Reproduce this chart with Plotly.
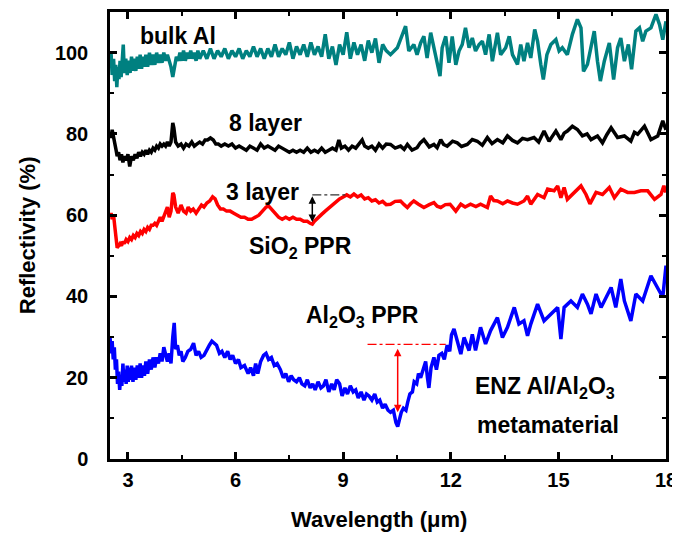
import plotly.graph_objects as go

# ---------------- data ----------------
bulk_x = [2.50,2.53,2.56,2.60,2.63,2.66,2.69,2.72,2.75,2.78,2.81,2.84,2.87,2.90,2.94,2.98,3.02,3.06,3.10,3.14,
          3.18,3.22,3.26,3.30,3.34,3.38,3.42,3.46,3.50,3.55,3.60,3.65,3.70,3.75,3.80,3.85,3.90,3.95,4.00,4.05,
          4.10,4.15,4.20,4.25,4.30,4.35,4.40,4.45,4.50,4.55,4.60,4.65,4.70,4.75,4.80,4.85,4.90,4.95,5.00,5.10,
          5.20,5.30,5.40,5.50,5.60,5.70,5.80,5.90,6.00,6.10,6.20,6.30,6.40,6.50,6.60,6.70,6.80,6.90,7.00,7.10,
          7.20,7.30,7.40,7.50,7.60,7.70,7.80,7.90,8.00,8.10,8.20,8.30,8.40,8.50,8.60,8.70,8.80,8.90,9.00,9.10,
          9.20,9.30,9.40,9.50,9.60,9.70,9.80,9.90,10.00,10.10,10.20,
          10.32,10.51,10.74,10.83,10.97,11.06,11.16,11.25,11.34,11.44,11.53,11.62,11.70,11.76,11.86,11.95,12.04,
          12.14,12.23,12.32,12.41,12.51,12.60,12.69,12.79,12.88,12.97,13.07,13.16,13.30,13.39,13.53,13.63,13.72,
          13.86,13.95,14.04,14.14,14.23,14.34,14.42,14.51,14.58,14.68,14.79,14.93,15.02,15.11,15.25,15.39,15.53,
          15.63,15.70,15.81,15.91,16.00,16.09,16.17,16.28,16.42,16.54,16.65,16.74,16.84,16.95,17.04,17.16,17.26,
          17.35,17.44,17.58,17.72,17.82,17.91,18.00]
bulk_y = [97.5,99.8,94.5,98.5,93.0,97.0,91.5,96.5,93.5,98.0,94.0,97.5,102.0,95.0,98.5,94.5,98.0,95.0,99.0,95.5,
          98.5,95.5,99.0,96.0,99.5,96.0,99.0,96.5,99.5,96.5,100.0,97.0,99.5,97.0,100.0,97.5,99.5,97.5,100.0,98.0,
          99.5,98.0,96.5,94.0,96.5,99.0,98.0,100.0,98.0,100.5,98.0,100.0,98.5,100.5,98.5,100.0,98.0,100.5,98.5,100.5,
          98.5,101.0,98.5,100.5,99.0,101.0,98.5,100.5,99.0,101.0,98.5,100.5,99.0,101.5,99.0,101.0,98.5,101.0,99.0,102.0,
          99.0,101.0,99.5,102.5,98.5,101.5,99.5,102.0,99.0,102.5,99.5,101.5,99.0,104.5,98.5,101.5,97.0,102.0,99.5,105.0,
          98.5,102.5,99.5,102.0,98.0,103.0,100.0,103.5,97.5,102.0,100.5,
          99.5,101.2,106.5,100.4,102.0,99.5,102.4,104.0,98.7,104.9,101.2,97.1,94.2,101.2,104.0,97.5,104.0,
          97.0,100.4,102.0,106.1,101.2,103.6,100.4,102.0,102.8,99.5,104.5,97.9,104.9,99.5,101.2,104.0,99.5,
          97.1,102.0,97.9,102.4,98.7,105.7,102.8,97.1,93.4,99.5,102.0,103.2,100.4,101.2,99.5,104.5,108.2,
          106.1,95.4,97.1,101.2,105.3,97.9,93.0,97.9,102.4,93.4,101.2,103.6,97.9,102.0,95.9,105.3,106.1,
          102.8,105.3,106.1,109.4,106.9,103.2,107.7]

l8_x = [2.50,2.53,2.56,2.60,2.63,2.67,2.70,2.74,2.78,2.82,2.86,2.90,2.95,3.00,3.05,3.10,3.15,3.20,3.25,3.30,
        3.35,3.40,3.45,3.50,3.55,3.60,3.65,3.70,3.75,3.80,3.85,3.90,3.95,4.00,4.05,4.10,4.15,4.20,4.25,4.28,
        4.33,4.40,4.48,4.55,4.62,4.70,4.78,4.85,4.92,5.00,5.08,5.15,5.22,5.30,5.38,5.45,5.52,5.60,5.70,5.80,
        5.90,6.00,6.10,6.20,6.30,6.40,6.50,6.60,6.70,6.80,6.90,7.00,7.10,7.20,7.30,7.40,7.50,7.60,7.70,7.80,
        7.90,8.00,8.10,8.20,8.30,8.40,8.50,8.60,8.70,8.80,8.88,8.95,9.05,9.15,9.25,9.35,9.45,9.53,9.60,9.70,
        9.80,9.90,10.00,10.10,10.20,10.32,10.45,10.60,10.70,10.79,10.92,11.06,11.15,11.25,11.40,11.53,11.62,11.72,
        11.80,11.90,12.05,12.18,12.30,12.46,12.60,12.74,12.88,13.02,13.15,13.30,13.45,13.58,13.72,13.86,14.00,
        14.14,14.32,14.45,14.60,14.74,14.83,14.93,15.07,15.16,15.25,15.39,15.53,15.67,15.80,15.91,16.09,16.23,
        16.35,16.47,16.65,16.84,17.02,17.12,17.21,17.40,17.58,17.77,17.91,18.00]
l8_y = [80.5,79.0,81.0,79.5,78.0,76.0,74.5,75.5,73.5,75.0,73.0,74.5,73.5,75.0,72.0,74.5,73.5,75.0,74.0,75.5,
        74.5,75.5,75.0,76.0,75.0,76.0,75.5,76.5,76.0,77.0,76.5,77.5,77.0,77.5,77.0,78.0,77.0,78.0,82.7,81.5,
        78.0,77.0,77.5,76.5,77.5,77.0,78.0,77.0,77.5,78.0,77.5,78.5,78.5,79.0,78.5,77.5,77.5,77.0,77.5,77.0,
        77.5,76.5,77.0,76.5,76.0,77.0,76.5,76.0,77.5,76.5,77.0,76.5,76.0,77.0,76.5,76.0,75.5,76.0,75.5,76.0,
        75.5,76.5,75.5,76.0,75.5,76.5,75.5,76.0,76.5,76.0,78.5,76.5,77.0,76.0,77.0,76.5,77.5,78.5,77.0,76.5,
        77.0,76.0,77.5,76.5,77.5,77.4,76.5,77.0,76.2,77.4,76.0,76.6,77.8,78.6,76.8,77.4,76.6,78.6,
        77.4,77.0,78.2,77.8,76.9,77.4,78.6,78.2,77.2,79.1,77.6,78.6,77.8,79.5,78.4,77.8,78.9,
        78.6,79.1,78.0,80.7,78.2,79.4,80.7,78.6,80.2,80.7,81.9,81.1,79.5,80.0,78.6,79.5,77.8,
        79.8,81.5,79.1,79.5,78.2,80.4,79.9,81.9,78.6,79.5,83.2,81.0]

l3_x = [2.50,2.53,2.56,2.60,2.63,2.66,2.70,2.74,2.78,2.82,2.86,2.90,2.95,3.00,3.05,3.10,3.15,3.20,3.25,3.30,
        3.35,3.40,3.45,3.50,3.55,3.60,3.65,3.70,3.75,3.80,3.85,3.90,3.95,4.00,4.05,4.10,4.15,4.20,4.25,4.28,
        4.33,4.40,4.48,4.55,4.62,4.68,4.75,4.82,4.90,4.98,5.05,5.12,5.20,5.28,5.36,5.43,5.50,5.58,5.66,5.75,
        5.85,5.95,6.05,6.15,6.25,6.35,6.45,6.55,6.65,6.75,6.85,6.92,7.00,7.10,7.20,7.30,7.40,7.50,7.60,7.70,
        7.80,7.90,8.00,8.08,8.14,8.20,8.30,8.40,8.50,8.60,8.70,8.80,8.90,9.00,9.10,9.20,9.30,9.40,9.50,9.60,
        9.70,9.80,9.90,10.00,10.10,10.20,10.32,10.45,10.60,10.70,10.79,10.88,10.97,11.10,11.25,11.40,11.53,11.62,
        11.72,11.85,11.98,12.14,12.28,12.40,12.55,12.70,12.83,13.02,13.11,13.20,13.30,13.45,13.58,13.72,13.86,
        14.04,14.14,14.23,14.42,14.60,14.70,14.88,14.98,15.07,15.16,15.25,15.44,15.63,15.77,15.88,16.05,16.23,
        16.42,16.56,16.74,16.93,17.12,17.30,17.49,17.68,17.86,17.94,18.00]
l3_y = [59.5,60.5,59.0,60.0,57.5,54.0,52.0,52.5,53.0,52.5,53.5,53.0,54.0,53.5,54.5,54.0,55.0,54.5,55.5,55.0,
        56.0,55.5,56.5,56.0,57.0,56.5,57.5,57.5,58.0,57.5,58.5,59.5,58.5,59.5,60.5,62.0,59.5,61.0,65.5,65.0,
        62.0,60.5,62.5,61.0,60.5,62.0,61.0,61.5,60.5,61.5,62.5,62.0,63.0,63.5,64.5,64.0,62.5,61.5,61.5,61.0,
        61.0,60.5,60.0,59.5,59.5,59.0,59.0,59.5,60.0,61.0,62.0,62.3,61.5,60.5,59.5,59.0,59.5,59.0,59.5,59.0,
        59.0,58.5,58.5,58.0,57.8,58.5,59.5,60.2,61.0,61.8,62.5,63.2,64.0,64.5,65.0,64.5,65.2,64.5,65.0,64.0,
        64.3,63.5,63.8,63.0,63.4,62.6,62.7,63.4,63.5,62.6,61.9,62.8,63.5,62.7,61.9,62.6,63.1,62.2,
        61.9,62.6,62.7,61.0,62.7,62.0,62.7,62.1,62.7,61.9,64.7,63.6,63.5,62.8,63.5,63.0,62.7,
        63.5,64.7,62.7,65.1,64.3,66.4,66.0,67.2,64.3,66.8,63.9,65.6,67.2,65.1,62.8,65.6,65.1,
        66.8,64.3,66.4,65.6,65.6,66.0,66.0,63.9,65.1,67.2,65.6]

enz_x = [2.50,2.53,2.56,2.59,2.62,2.65,2.68,2.71,2.74,2.77,2.80,2.83,2.86,2.89,2.92,2.95,2.98,3.01,3.04,3.07,
         3.10,3.14,3.18,3.22,3.26,3.30,3.34,3.38,3.42,3.46,3.50,3.55,3.60,3.65,3.70,3.75,3.80,3.85,3.90,3.95,
         4.00,4.05,4.10,4.15,4.20,4.25,4.29,4.33,4.38,4.43,4.48,4.53,4.60,4.67,4.75,4.83,4.90,4.97,5.04,5.12,
         5.20,5.27,5.34,5.40,5.47,5.55,5.62,5.70,5.78,5.85,5.92,6.00,6.08,6.15,6.25,6.35,6.42,6.50,6.56,6.62,
         6.70,6.78,6.85,6.92,7.00,7.08,7.16,7.25,7.33,7.40,7.48,7.55,7.62,7.70,7.78,7.85,7.93,8.00,8.08,8.15,
         8.22,8.30,8.38,8.45,8.52,8.60,8.68,8.75,8.82,8.90,8.97,9.05,9.12,9.20,9.28,9.35,9.42,9.50,9.58,9.65,
         9.72,9.80,9.88,9.95,10.02,10.10,10.17,10.25,10.32,10.40,10.47,10.52,10.57,10.62,10.68,10.75,10.80,10.86,
         10.93,10.98,11.05,11.10,11.16,11.22,11.30,11.35,11.39,11.45,11.53,11.60,11.67,11.75,11.82,11.90,11.97,
         12.02,12.09,12.18,12.28,12.37,12.51,12.60,12.69,12.83,12.97,13.11,13.30,13.44,13.58,13.77,13.90,14.04,
         14.14,14.23,14.42,14.60,14.79,14.98,15.07,15.16,15.35,15.53,15.67,15.81,15.91,16.05,16.19,16.33,16.47,
         16.60,16.74,16.84,17.02,17.16,17.35,17.58,17.72,17.91,18.00]
enz_y = [30.0,26.0,29.0,24.5,27.5,22.0,24.5,18.5,21.5,17.0,20.5,18.0,23.5,19.0,22.0,18.5,23.0,19.0,22.5,19.5,
         23.0,19.0,22.5,19.5,23.0,20.0,23.5,20.0,23.0,20.5,24.0,21.0,24.5,22.0,25.0,22.5,25.0,23.5,26.0,24.0,
         27.5,25.5,24.0,26.0,23.5,30.0,33.5,27.0,28.0,25.5,26.5,24.0,25.0,26.5,27.0,28.5,25.5,26.5,25.0,25.5,
         27.0,28.0,29.0,28.5,28.0,26.0,26.5,25.0,26.5,24.5,25.5,23.5,24.5,22.5,23.0,21.0,22.5,20.5,23.5,21.0,
         24.0,25.5,26.0,24.5,25.0,23.0,23.5,22.0,20.0,21.0,19.0,20.5,19.5,19.0,20.0,18.5,18.0,19.5,17.5,18.5,
         17.0,19.0,17.5,18.0,19.5,16.5,18.5,17.0,19.5,18.5,15.5,17.5,16.0,18.0,16.5,17.0,15.0,16.5,14.5,16.0,
         15.5,14.5,16.0,14.0,14.5,12.5,13.5,12.0,11.5,12.0,9.0,8.0,10.0,11.5,12.5,12.0,14.0,16.0,
         16.5,19.0,18.5,21.0,20.0,22.0,24.0,20.0,17.5,22.5,25.0,22.0,25.5,26.0,24.5,28.0,26.5,
         30.5,32.0,29.1,25.8,29.9,26.7,30.7,26.7,32.4,28.3,31.6,34.8,29.9,32.4,37.3,33.2,34.0,
         30.3,33.2,38.1,34.0,35.7,37.3,29.5,37.3,38.9,37.3,40.6,38.1,35.7,40.6,37.3,39.8,42.2,
         37.3,44.3,38.9,34.0,40.6,38.9,45.1,43.0,39.8,47.6]

x_ticks = [3, 6, 9, 12, 15, 18]
y_ticks = [0, 20, 40, 60, 80, 100]

FONT = "Liberation Sans"

fig = go.Figure()
series = [
    (bulk_x, bulk_y, "#008080", "bulk Al"),
    (l8_x, l8_y, "#000000", "8 layer"),
    (l3_x, l3_y, "#ff0000", "3 layer"),
    (enz_x, enz_y, "#0000ff", "ENZ"),
]
for xs, ys, col, name in series:
    fig.add_trace(go.Scatter(x=xs, y=ys, mode="lines", name=name,
                             line=dict(color=col, width=3.5), hoverinfo="skip"))

ann_font = dict(family=FONT, size=23, color="black", weight="bold")
labels = [
    (4.4, 104.0, "bulk Al"),
    (6.83, 82.7, "8 layer"),
    (6.75, 65.8, "3 layer"),
    (7.8, 52.0, "SiO<sub>2</sub> PPR"),
    (9.54, 35.0, "Al<sub>2</sub>O<sub>3</sub> PPR"),
    (14.62, 17.5, "ENZ Al/Al<sub>2</sub>O<sub>3</sub>"),
    (14.72, 8.3, "metamaterial"),
]
for lx, ly, txt in labels:
    fig.add_annotation(x=lx, y=ly, text=txt, showarrow=False, font=ann_font,
                       xanchor="center", yanchor="middle")

# dash-dot reference lines
fig.add_shape(type="line", x0=8.14, x1=9.12, y0=65.0, y1=65.0,
              line=dict(color="#333333", width=1.3, dash="dashdot"))
fig.add_shape(type="line", x0=9.68, x1=11.86, y0=28.2, y1=28.2,
              line=dict(color="#ff0000", width=1.3, dash="dashdot"))
# double-headed arrows
fig.add_annotation(x=8.14, y=58.3, ax=8.14, ay=65.0, axref="x", ayref="y",
                   text="", showarrow=True, arrowhead=2, startarrowhead=2,
                   arrowside="end+start", arrowsize=1, arrowwidth=1.5, arrowcolor="black")
fig.add_annotation(x=10.52, y=11.5, ax=10.52, ay=27.5, axref="x", ayref="y",
                   text="", showarrow=True, arrowhead=2, startarrowhead=2,
                   arrowside="end+start", arrowsize=1, arrowwidth=1.5, arrowcolor="#ff0000")

# axis titles as paper annotations
title_font = dict(family=FONT, size=22, color="black", weight="bold")
fig.add_annotation(x=0.484, y=-0.136, xref="paper", yref="paper", text="Wavelength (\u03bcm)",
                   showarrow=False, font=title_font, xanchor="center", yanchor="middle")
fig.add_annotation(x=-0.148, y=0.5, xref="paper", yref="paper", text="Reflectivity (%)",
                   showarrow=False, font=title_font, textangle=-90, xanchor="center", yanchor="middle")

axis_common = dict(showline=True, linecolor="black", linewidth=2.5, mirror="ticks",
                   ticks="inside", ticklen=7, tickwidth=2.5, tickcolor="black",
                   showgrid=False, zeroline=False, automargin=False,
                   tickfont=dict(family=FONT, size=20, color="black", weight="bold"))

fig.update_xaxes(range=[2.5, 18], tickvals=x_ticks, ticktext=[str(v) for v in x_ticks],
                 minor=dict(ticks="inside", ticklen=4, tickwidth=2, tickcolor="black", dtick=1.5, tick0=0),
                 ticklabelstandoff=1, **axis_common)
fig.update_yaxes(range=[0, 110], tickvals=y_ticks, ticktext=[str(v) for v in y_ticks],
                 minor=dict(ticks="inside", ticklen=4, tickwidth=2, tickcolor="black", dtick=10, tick0=0),
                 ticklabelstandoff=15, **axis_common)

# the page body adds an 8 px offset, so the figure is sized to fit inside the window
fig.update_layout(width=672, height=531, margin=dict(l=102, r=14, t=4, b=80),
                  plot_bgcolor="white", paper_bgcolor="white", showlegend=False)

fig.write_html("out.html")
